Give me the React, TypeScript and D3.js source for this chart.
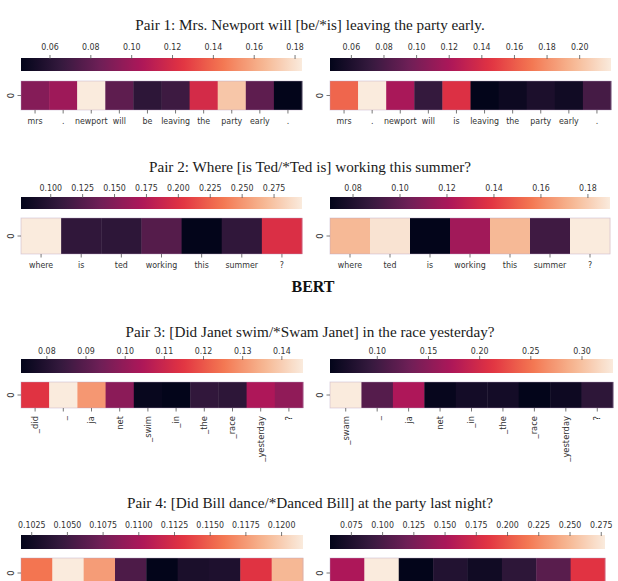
import * as d3 from "d3"

// seaborn "rocket" colormap, sampled at fixed positions
const rocketStops = [0, 1 / 7, 2 / 7, 3 / 7, 4 / 7, 5 / 7, 6 / 7, 1]
const rocketColors = ["#03051a", "#35193e", "#701f57", "#ad1759", "#e13342", "#f37651", "#f6b48f", "#faebdd"]
const rocket = d3
  .scaleLinear<string>()
  .domain(rocketStops)
  .range(rocketColors)
  .interpolate(d3.interpolateRgb)
  .clamp(true)

// Pair 1
const pair1Title = "Pair 1: Mrs. Newport will [be/*is] leaving the party early."
const pair1aTokens = ["mrs", ".", "newport", "will", "be", "leaving", "the", "party", "early", "."]
const pair1aValues = [0.092, 0.1, 0.1834, 0.079, 0.0623, 0.068, 0.119, 0.17, 0.079, 0.0458]
const pair1aTicks = [0.06, 0.08, 0.1, 0.12, 0.14, 0.16, 0.18]
const pair1bTokens = ["mrs", ".", "newport", "will", "is", "leaving", "the", "party", "early", "."]
const pair1bValues = [0.164, 0.2192, 0.119, 0.071, 0.143, 0.0469, 0.052, 0.059, 0.054, 0.078]
const pair1bTicks = [0.06, 0.08, 0.1, 0.12, 0.14, 0.16, 0.18, 0.2]

// Pair 2
const pair2Title = "Pair 2: Where [is Ted/*Ted is] working this summer?"
const pair2aTokens = ["where", "is", "ted", "working", "this", "summer", "?"]
const pair2aValues = [0.2969, 0.105, 0.103, 0.125, 0.0767, 0.105, 0.198]
const pair2aTicks = [0.1, 0.125, 0.15, 0.175, 0.2, 0.225, 0.25, 0.275]
const pair2bTokens = ["where", "ted", "is", "working", "this", "summer", "?"]
const pair2bValues = [0.174, 0.187, 0.0702, 0.118, 0.174, 0.09, 0.1894]
const pair2bTicks = [0.08, 0.1, 0.12, 0.14, 0.16, 0.18]

// Pair 3
const pair3Title = "Pair 3: [Did Janet swim/*Swam Janet] in the race yesterday?"
const pair3aTokens = ["_did", "_", "ja", "net", "_swim", "_in", "_the", "_race", "_yesterday", "?"]
const pair3aValues = [0.1144, 0.1454, 0.1303, 0.0986, 0.0745, 0.0734, 0.0828, 0.082, 0.1044, 0.0993]
const pair3aTicks = [0.08, 0.09, 0.1, 0.11, 0.12, 0.13, 0.14]
const pair3bTokens = ["_swam", "_", "ja", "net", "_in", "_the", "_race", "_yesterday", "?"]
const pair3bValues = [0.3303, 0.115, 0.173, 0.0566, 0.0676, 0.0676, 0.0538, 0.0621, 0.087]
const pair3bTicks = [0.1, 0.15, 0.2, 0.25, 0.3]

// Pair 4
const pair4Title = "Pair 4: [Did Bill dance/*Danced Bill] at the party last night?"
const pair4aTokens = ["_did", "_bill", "_dance", "_at", "_the", "_party", "_last", "_night", "?"]
const pair4aValues = [0.1158, 0.1215, 0.1176, 0.1057, 0.10175, 0.1031, 0.1033, 0.113, 0.1189]
const pair4aTicks = [0.1025, 0.105, 0.1075, 0.11, 0.1125, 0.115, 0.1175, 0.12]
const pair4bTokens = ["_danced", "_bill", "_at", "_the", "_party", "_last", "_night", "?"]
const pair4bValues = [0.1525, 0.278, 0.0579, 0.0777, 0.0667, 0.0843, 0.1085, 0.1834]
const pair4bTicks = [0.075, 0.1, 0.125, 0.15, 0.175, 0.2, 0.225, 0.25, 0.275]

const W = 618
const H = 581
const labelFont = "'DejaVu Sans', sans-serif"
const titleFont = "'Liberation Serif', 'Times New Roman', serif"
const labelSize = 9.2
const squeeze = 0.86 // labels in these figures are horizontally narrowed
const labelColor = "#333"

interface Row {
  title: string
  titleY: number
  tickY: number
  cbY: number
  cbH: number
  heatY: number
  heatH: number
  rotate: boolean
  labelY: number
}

interface Panel {
  row: number
  tokens: string[]
  values: number[]
  ticks: number[]
  decimals: number
  x0: number
  x1: number
}

const rows: Row[] = [
  { title: pair1Title, titleY: 30, tickY: 50, cbY: 58, cbH: 13, heatY: 81, heatH: 29, rotate: false, labelY: 123.5 },
  { title: pair2Title, titleY: 172, tickY: 191, cbY: 197, cbH: 12, heatY: 218, heatH: 36, rotate: false, labelY: 267.5 },
  { title: pair3Title, titleY: 337, tickY: 354, cbY: 359, cbH: 14, heatY: 382, heatH: 26, rotate: true, labelY: 416 },
  { title: pair4Title, titleY: 508, tickY: 528, cbY: 535, cbH: 14, heatY: 558, heatH: 30, rotate: true, labelY: 595 },
]

const panels: Panel[] = [
  { row: 0, tokens: pair1aTokens, values: pair1aValues, ticks: pair1aTicks, decimals: 2, x0: 21, x1: 302 },
  { row: 0, tokens: pair1bTokens, values: pair1bValues, ticks: pair1bTicks, decimals: 2, x0: 330, x1: 611 },
  { row: 1, tokens: pair2aTokens, values: pair2aValues, ticks: pair2aTicks, decimals: 3, x0: 21, x1: 302 },
  { row: 1, tokens: pair2bTokens, values: pair2bValues, ticks: pair2bTicks, decimals: 2, x0: 330, x1: 610 },
  { row: 2, tokens: pair3aTokens, values: pair3aValues, ticks: pair3aTicks, decimals: 2, x0: 21, x1: 303 },
  { row: 2, tokens: pair3bTokens, values: pair3bValues, ticks: pair3bTicks, decimals: 2, x0: 330, x1: 613 },
  { row: 3, tokens: pair4aTokens, values: pair4aValues, ticks: pair4aTicks, decimals: 4, x0: 21, x1: 303 },
  { row: 3, tokens: pair4bTokens, values: pair4bValues, ticks: pair4bTicks, decimals: 3, x0: 330, x1: 605 },
]

// small sans label, narrowed horizontally around its anchor
const Label = ({ x, y, text }: { x: number; y: number; text: string }) => (
  <text
    transform={`translate(${x},${y}) scale(${squeeze},1)`}
    textAnchor="middle"
    fontFamily={labelFont}
    fontSize={labelSize}
    fill={labelColor}
  >
    {text}
  </text>
)

const HeatPanel = ({ p, idx }: { p: Panel; idx: number }) => {
  const r = rows[p.row]
  const [vmin, vmax] = d3.extent(p.values) as [number, number]
  const norm = d3.scaleLinear().domain([vmin, vmax]).range([0, 1])
  const cb = d3.scaleLinear().domain([vmin, vmax]).range([p.x0, p.x1])
  const x = d3
    .scaleBand<number>()
    .domain(p.tokens.map((_, i) => i))
    .range([p.x0, p.x1])
  const fmt = d3.format(`.${p.decimals}f`)
  const gid = `cbar-${idx}`
  const samples = d3.range(0, 1.0001, 0.02)
  const heatMid = r.heatY + r.heatH / 2
  const heatBottom = r.heatY + r.heatH

  return (
    <g>
      <defs>
        <linearGradient id={gid} x1="0" x2="1" y1="0" y2="0">
          {samples.map((t) => (
            <stop key={t} offset={t} stopColor={rocket(t)} />
          ))}
        </linearGradient>
      </defs>

      {/* colorbar */}
      <rect x={p.x0} y={r.cbY} width={p.x1 - p.x0} height={r.cbH} fill={`url(#${gid})`} />
      {p.ticks.map((t) => (
        <g key={t}>
          <line x1={cb(t)} x2={cb(t)} y1={r.cbY - 3} y2={r.cbY + 1} stroke="#555" strokeWidth={0.8} />
          <Label x={cb(t)} y={r.tickY} text={fmt(t)} />
        </g>
      ))}

      {/* heatmap row */}
      {p.values.map((v, i) => (
        <rect
          key={i}
          x={x(i)}
          y={r.heatY}
          width={x.bandwidth() + 0.4}
          height={r.heatH}
          fill={rocket(norm(v))}
        />
      ))}
      <rect
        x={p.x0}
        y={r.heatY}
        width={p.x1 - p.x0}
        height={r.heatH}
        fill="none"
        stroke="#b9a3c2"
        strokeOpacity={0.5}
        strokeWidth={0.8}
      />

      {/* y tick "0" */}
      <line x1={p.x0 - 3.5} x2={p.x0} y1={heatMid} y2={heatMid} stroke="#555" strokeWidth={0.8} />
      <text
        transform={`translate(${p.x0 - 7.5},${heatMid}) rotate(-90)`}
        textAnchor="middle"
        fontFamily={labelFont}
        fontSize={8.4}
        fill={labelColor}
      >
        0
      </text>

      {/* x ticks and token labels */}
      {p.tokens.map((tok, i) => {
        const cx = (x(i) as number) + x.bandwidth() / 2
        return (
          <g key={i}>
            <line x1={cx} x2={cx} y1={heatBottom} y2={heatBottom + 3.5} stroke="#555" strokeWidth={0.8} />
            {r.labelY > H ? null : r.rotate ? (
              <text
                transform={`translate(${cx},${r.labelY}) rotate(-90)`}
                textAnchor="end"
                dy="0.35em"
                fontFamily={labelFont}
                fontSize={8.4}
                fill={labelColor}
              >
                {tok}
              </text>
            ) : (
              <Label x={cx} y={r.labelY} text={tok} />
            )}
          </g>
        )
      })}
    </g>
  )
}

const App = () => {
  return (
    <svg width={W} height={H} style={{ position: "absolute", left: 0, top: 0, background: "#fff" }}>
      <rect width={W} height={H} fill="#fff" />
      {rows.map((r) => (
        <text
          key={r.title}
          x={310}
          y={r.titleY}
          textAnchor="middle"
          fontFamily={titleFont}
          fontSize={15.2}
          fill="#1a1a1a"
        >
          {r.title}
        </text>
      ))}
      <text
        x={313}
        y={292}
        textAnchor="middle"
        fontFamily={titleFont}
        fontWeight="bold"
        fontSize={16}
        fill="#111"
      >
        BERT
      </text>
      {panels.map((p, i) => (
        <HeatPanel key={i} p={p} idx={i} />
      ))}
    </svg>
  )
}

export default App
